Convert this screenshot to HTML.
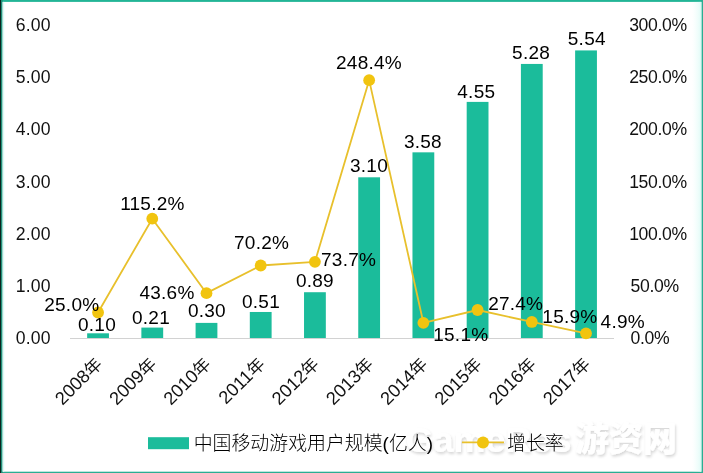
<!DOCTYPE html>
<html lang="zh-CN">
<head>
<meta charset="utf-8">
<title>中国移动游戏用户规模</title>
<style>
html,body{margin:0;padding:0;background:#fff;}
body{width:703px;height:473px;overflow:hidden;position:relative;}
svg{display:block;position:absolute;left:0;top:0;}
text{font-family:"Liberation Sans","Noto Sans CJK SC",sans-serif;fill:#000;}
.dl{font-size:19.0px;text-anchor:middle;letter-spacing:0.25px;}
.axl{font-size:17.6px;text-anchor:end;fill:#111;letter-spacing:0.2px;}
.axr{font-size:17.6px;text-anchor:start;fill:#111;letter-spacing:-0.35px;}
.cat{font-size:18.3px;text-anchor:end;fill:#111;}
.leg{font-size:18.9px;font-weight:300;fill:#000;}
.wm{font-weight:700;fill:#fff;}
</style>
</head>
<body>
<svg width="703" height="473" viewBox="0 0 703 473">
<rect x="0" y="0" width="703" height="473" fill="#fff"/>
<rect x="0" y="0" width="703" height="1.9" fill="#22B596"/>
<rect x="0" y="471.7" width="703" height="1.3" fill="#2AAE93"/>
<rect x="701.4" y="0" width="1.6" height="473" fill="#2AAE93"/>
<rect x="0" y="0" width="2.6" height="473" fill="#1F8F78"/>
<rect x="0" y="0" width="0.9" height="473" fill="#0a1a16"/>
<rect x="2.6" y="1.9" width="1.6" height="469.8" fill="#DDFBF6"/>
<rect x="699.6" y="1.9" width="1.8" height="469.8" fill="#DDFBF6"/>
<defs><linearGradient id="rg" x1="0" x2="1" y1="0" y2="0"><stop offset="0" stop-color="#E6FCF9" stop-opacity="0"/><stop offset="1" stop-color="#D6FAF4" stop-opacity="0.55"/></linearGradient></defs>
<rect x="692" y="1.9" width="7.6" height="469.8" fill="url(#rg)"/>
<defs><filter id="ws" x="-5%" y="-20%" width="110%" height="150%"><feGaussianBlur in="SourceAlpha" stdDeviation="1.6" result="b"/><feOffset in="b" dx="1.2" dy="1.5" result="ob"/><feComponentTransfer in="ob" result="sh"><feFuncA type="linear" slope="0.17"/></feComponentTransfer><feMerge><feMergeNode in="sh"/><feMergeNode in="SourceGraphic"/></feMerge></filter></defs>
<g filter="url(#ws)">
<text class="wm" x="405.5" y="452" font-size="35" textLength="166" lengthAdjust="spacingAndGlyphs">GameRes</text>
<text class="wm" x="575" y="450.5" font-size="34" style="font-weight:900">游资网</text>
</g>
<rect x="87.15" y="333.30" width="21.8" height="5.20" fill="#1BBC9B"/>
<rect x="141.37" y="327.58" width="21.8" height="10.92" fill="#1BBC9B"/>
<rect x="195.59" y="322.90" width="21.8" height="15.60" fill="#1BBC9B"/>
<rect x="249.81" y="311.98" width="21.8" height="26.52" fill="#1BBC9B"/>
<rect x="304.03" y="292.22" width="21.8" height="46.28" fill="#1BBC9B"/>
<rect x="358.25" y="177.30" width="21.8" height="161.20" fill="#1BBC9B"/>
<rect x="412.47" y="152.34" width="21.8" height="186.16" fill="#1BBC9B"/>
<rect x="466.69" y="101.90" width="21.8" height="236.60" fill="#1BBC9B"/>
<rect x="520.91" y="63.94" width="21.8" height="274.56" fill="#1BBC9B"/>
<rect x="575.13" y="50.42" width="21.8" height="288.08" fill="#1BBC9B"/>
<rect x="70" y="338" width="544" height="1" fill="#D2D2D2"/>
<polyline points="98.05,312.50 152.27,218.69 206.49,293.16 260.71,265.49 314.93,261.85 369.15,80.16 423.37,322.80 477.59,310.00 531.81,321.96 586.03,333.40" fill="none" stroke="#E8C02C" stroke-width="1.8" stroke-linejoin="round"/>
<circle cx="98.05" cy="312.50" r="5.9" fill="#F1C40F"/>
<circle cx="152.27" cy="218.69" r="5.9" fill="#F1C40F"/>
<circle cx="206.49" cy="293.16" r="5.9" fill="#F1C40F"/>
<circle cx="260.71" cy="265.49" r="5.9" fill="#F1C40F"/>
<circle cx="314.93" cy="261.85" r="5.9" fill="#F1C40F"/>
<circle cx="369.15" cy="80.16" r="5.9" fill="#F1C40F"/>
<circle cx="423.37" cy="322.80" r="5.9" fill="#F1C40F"/>
<circle cx="477.59" cy="310.00" r="5.9" fill="#F1C40F"/>
<circle cx="531.81" cy="321.96" r="5.9" fill="#F1C40F"/>
<circle cx="586.03" cy="333.40" r="5.9" fill="#F1C40F"/>
<text class="axl" x="50.8" y="344.00">0.00</text>
<text class="axr" x="630.6" y="344.00">0.0%</text>
<text class="axl" x="50.8" y="292.00">1.00</text>
<text class="axr" x="630.6" y="292.00">50.0%</text>
<text class="axl" x="50.8" y="240.00">2.00</text>
<text class="axr" x="629.2" y="240.00">100.0%</text>
<text class="axl" x="50.8" y="188.00">3.00</text>
<text class="axr" x="629.2" y="188.00">150.0%</text>
<text class="axl" x="50.8" y="135.00">4.00</text>
<text class="axr" x="629.2" y="135.00">200.0%</text>
<text class="axl" x="50.8" y="83.00">5.00</text>
<text class="axr" x="629.2" y="83.00">250.0%</text>
<text class="axl" x="50.8" y="31.00">6.00</text>
<text class="axr" x="629.2" y="31.00">300.0%</text>
<text class="cat" transform="translate(103.25 365.20) rotate(-45)" x="0" y="0">2008<tspan font-size="17">年</tspan></text>
<text class="cat" transform="translate(157.47 365.20) rotate(-45)" x="0" y="0">2009<tspan font-size="17">年</tspan></text>
<text class="cat" transform="translate(211.69 365.20) rotate(-45)" x="0" y="0">2010<tspan font-size="17">年</tspan></text>
<text class="cat" transform="translate(265.91 365.20) rotate(-45)" x="0" y="0">2011<tspan font-size="17">年</tspan></text>
<text class="cat" transform="translate(320.13 365.20) rotate(-45)" x="0" y="0">2012<tspan font-size="17">年</tspan></text>
<text class="cat" transform="translate(374.35 365.20) rotate(-45)" x="0" y="0">2013<tspan font-size="17">年</tspan></text>
<text class="cat" transform="translate(428.57 365.20) rotate(-45)" x="0" y="0">2014<tspan font-size="17">年</tspan></text>
<text class="cat" transform="translate(482.79 365.20) rotate(-45)" x="0" y="0">2015<tspan font-size="17">年</tspan></text>
<text class="cat" transform="translate(537.01 365.20) rotate(-45)" x="0" y="0">2016<tspan font-size="17">年</tspan></text>
<text class="cat" transform="translate(591.23 365.20) rotate(-45)" x="0" y="0">2017<tspan font-size="17">年</tspan></text>
<text class="dl" x="97.00" y="330.85">0.10</text>
<text class="dl" x="151.00" y="323.75">0.21</text>
<text class="dl" x="206.90" y="317.25">0.30</text>
<text class="dl" x="261.00" y="307.65">0.51</text>
<text class="dl" x="314.90" y="287.25">0.89</text>
<text class="dl" x="369.00" y="171.85">3.10</text>
<text class="dl" x="422.90" y="148.25">3.58</text>
<text class="dl" x="476.30" y="97.65">4.55</text>
<text class="dl" x="531.10" y="59.15">5.28</text>
<text class="dl" x="586.80" y="44.75">5.54</text>
<text class="dl" x="71.80" y="310.95">25.0%</text>
<text class="dl" x="152.40" y="209.95">115.2%</text>
<text class="dl" x="167.00" y="298.85">43.6%</text>
<text class="dl" x="261.60" y="249.15">70.2%</text>
<text class="dl" x="348.60" y="266.05">73.7%</text>
<text class="dl" x="369.00" y="69.15">248.4%</text>
<text class="dl" x="460.80" y="340.95">15.1%</text>
<text class="dl" x="515.70" y="309.55">27.4%</text>
<text class="dl" x="569.90" y="322.75">15.9%</text>
<text class="dl" x="622.75" y="327.85">4.9%</text>
<rect x="148" y="437.2" width="41" height="12" fill="#1BBC9B"/>
<text class="leg" x="193.7" y="449.6">中国移动游戏用户规模(亿人)</text>
<line x1="462" y1="442.4" x2="504" y2="442.4" stroke="#E8C02C" stroke-width="1.8"/>
<circle cx="483" cy="442.4" r="6" fill="#F1C40F"/>
<text class="leg" x="507" y="449.6">增长率</text>
</svg>
</body>
</html>
